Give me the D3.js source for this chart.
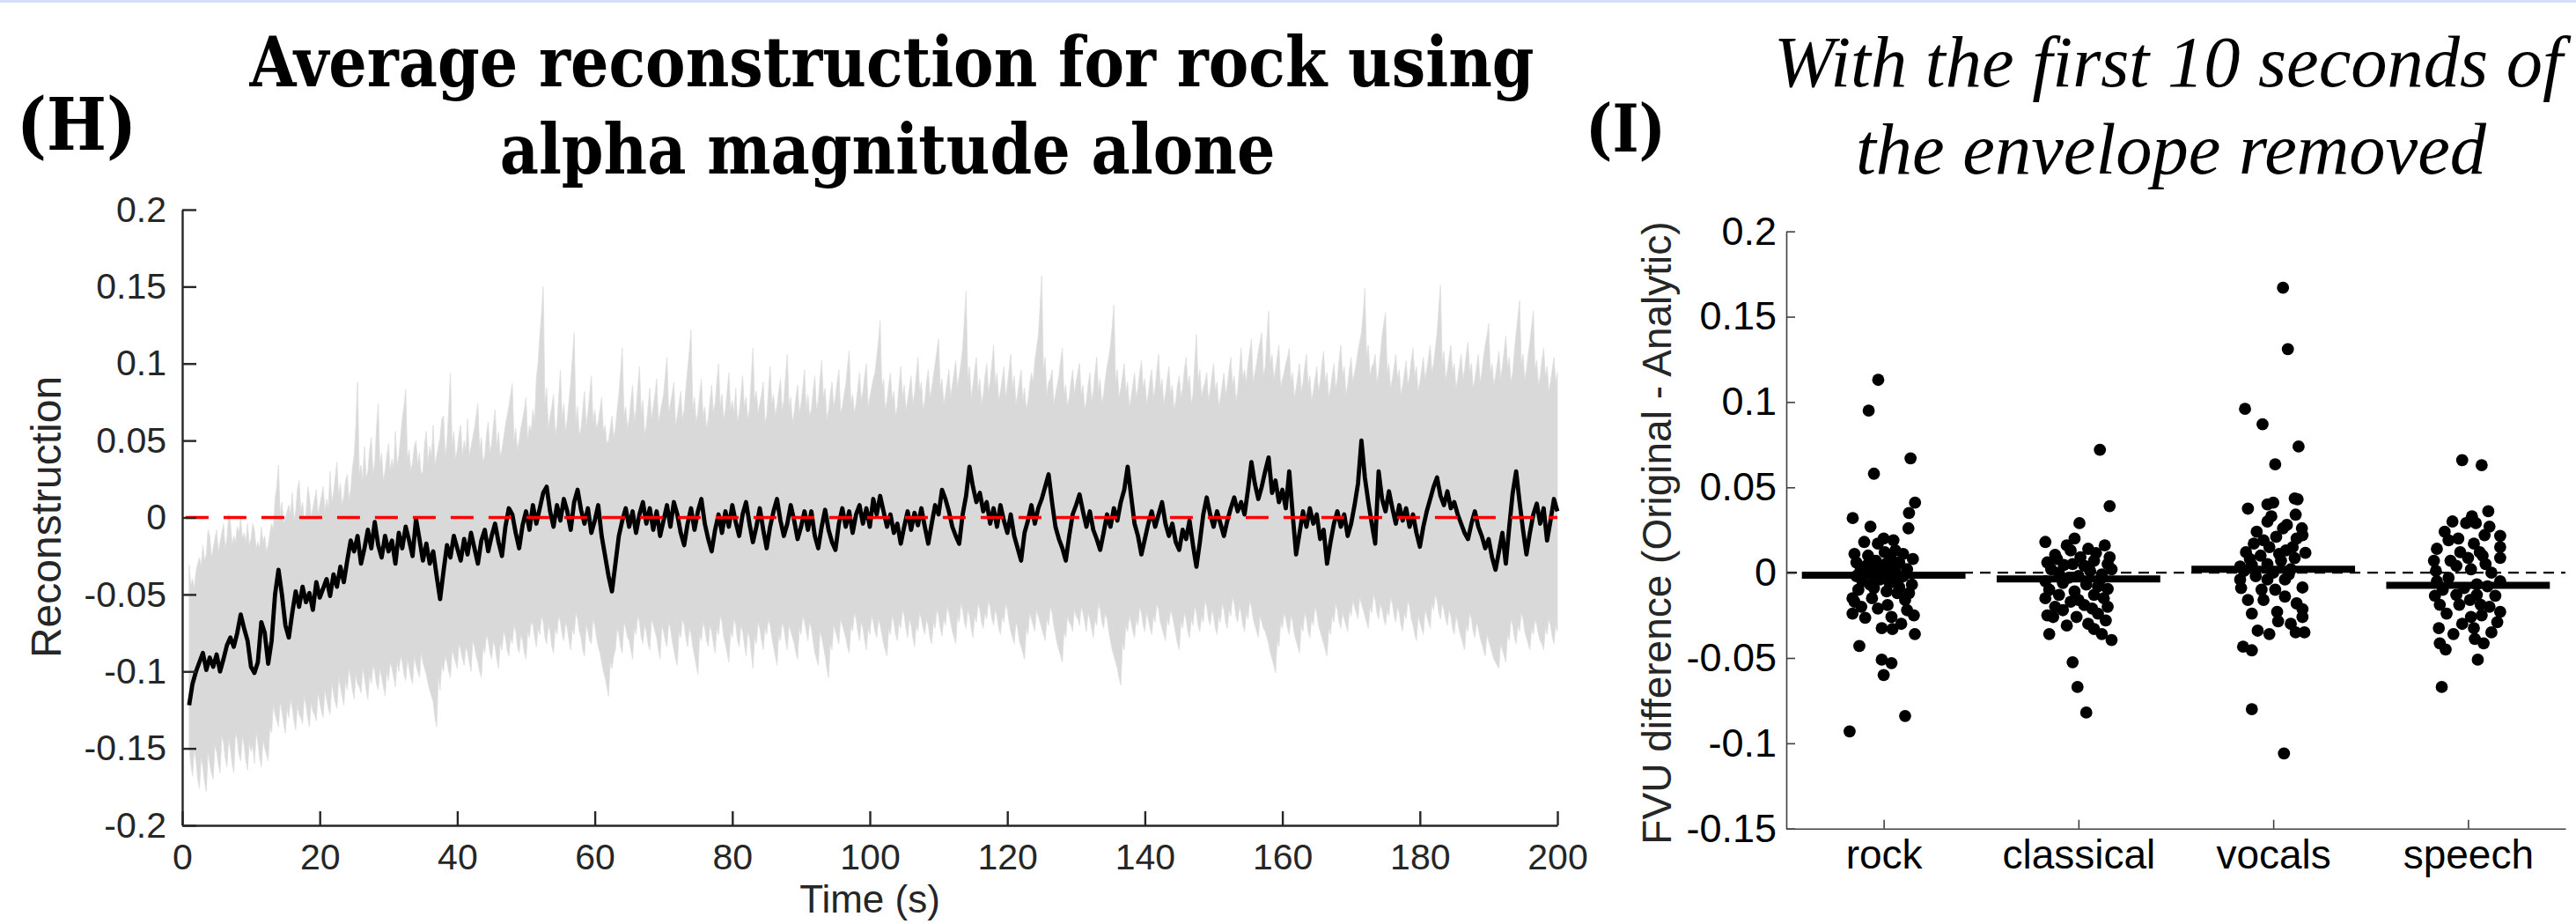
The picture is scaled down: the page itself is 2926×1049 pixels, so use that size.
<!DOCTYPE html>
<html>
<head>
<meta charset="utf-8">
<script src="https://cdn.jsdelivr.net/npm/d3@7"></script>
<style>
  html, body { margin: 0; padding: 0; background: #ffffff; }
  svg { display: block; }
</style>
</head>
<body>
<svg id="chart" width="2926" height="1049"></svg>
<script>
// ---------------- DATA ----------------
// Panel H: mean reconstruction, sampled every 0.5 s from t = 1 s to t = 200 s
const meanStart = 1, meanStep = 0.5;
const meanValues = [
-.122,-.108,-.100,-.094,-.088,-.099,-.091,-.097,-.089,-.100,-.092,-.083,-.078,-.084,-.075,-.063,-.072,-.080,-.097,-.101,
-.094,-.068,-.075,-.095,-.080,-.050,-.034,-.050,-.070,-.078,-.062,-.048,-.058,-.045,-.055,-.049,-.060,-.042,-.052,-.046,
-.040,-.051,-.037,-.045,-.032,-.042,-.028,-.015,-.022,-.012,-.030,-.020,-.008,-.020,-.003,-.018,-.026,-.012,-.022,-.015,
-.030,-.010,-.020,-.006,-.015,-.025,-.001,-.014,-.028,-.017,-.030,-.022,-.038,-.053,-.035,-.018,-.026,-.012,-.020,-.028,
-.014,-.024,-.010,-.020,-.030,-.015,-.008,-.022,-.012,-.004,-.016,-.025,-.006,.006,.002,-.010,-.020,-.005,.004,-.008,
.008,-.004,.006,.016,.020,.004,-.006,.008,-.002,.012,.004,-.008,.010,.018,.005,-.004,.006,-.010,-.002,.008,
-.012,-.025,-.038,-.048,-.030,-.012,-.002,.006,-.006,.004,-.010,.002,.010,-.004,.006,-.008,.004,-.012,-.002,.008,
-.006,.010,.002,-.010,-.018,-.004,.006,-.008,.004,.012,-.004,-.014,-.022,-.008,.002,-.010,.004,-.006,.008,-.003,
-.012,.002,.010,-.004,-.016,-.006,.006,-.008,-.020,-.006,.004,.012,-.002,-.012,-.004,.008,-.002,-.014,-.006,.004,
-.008,.004,-.012,-.020,-.006,.005,-.008,-.016,-.021,-.004,.006,-.006,.004,-.010,.002,.008,-.004,.006,-.006,.012,
.002,.014,.004,-.006,.002,-.010,-.004,-.017,-.006,.004,-.008,.003,-.005,.006,-.006,-.017,-.004,.008,.002,.018,
.012,.004,-.006,-.012,-.017,.002,.014,.033,.020,.010,.016,.004,.010,-.004,.006,-.006,.008,-.002,-.010,.002,
-.012,-.020,-.028,-.010,-.002,.008,-.004,.006,.012,.020,.028,.010,-.006,-.014,-.020,-.028,-.012,.002,.008,.015,
.004,-.006,.004,-.008,-.014,-.021,-.010,.002,-.006,.006,-.002,.010,.018,.033,.014,-.004,-.012,-.024,-.014,-.004,
.004,-.006,.002,.010,-.004,-.012,-.004,-.016,-.021,-.008,-.014,-.002,-.018,-.032,-.016,.002,.013,.002,-.006,.004,
-.004,-.012,-.002,.006,.013,.004,.010,.002,.018,.036,.022,.012,.020,.030,.039,.016,.024,.010,.018,.006,
.030,.002,-.024,-.010,.004,-.006,.006,-.004,.002,-.014,-.008,-.030,-.016,-.004,.004,-.006,.002,-.012,-.004,.008,
.022,.050,.026,.010,-.004,-.017,.030,.012,.004,.017,.006,-.004,.008,-.002,.006,-.006,.002,-.010,-.019,-.006,
.004,.012,.020,.026,.014,.008,.017,.006,.010,.002,-.004,-.010,-.014,-.004,.004,-.006,-.012,-.020,-.014,-.026,
-.034,-.022,-.010,-.030,-.006,.016,.030,.010,-.008,-.024,-.010,.002,.009,-.004,.006,-.015,-.002,.012,.004
];
// Upper and lower edges of the grey band, sampled every 0.25 s from t = 1 s to t = 200 s
const bandStart = 1, bandStep = 0.25;
const upperValues = [
-.031,-.044,-.040,-.046,-.035,-.030,-.026,-.032,-.018,-.028,-.024,-.008,-.012,-.026,-.020,-.014,-.008,-.022,-.016,-.010,-.004,-.020,-.014,.002,-.002,-.018,-.012,-.016,-.006,-.010,.000,-.014,-.010,-.016,-.004,-.018,-.014,-.004,-.008,-.020,
-.016,-.020,-.006,-.016,-.012,-.022,-.018,-.010,-.004,-.008,.012,.020,.034,.002,.010,-.004,.000,.004,.008,.002,.016,-.002,.004,.018,.024,.004,.010,-.002,.002,.020,.014,.000,.006,.012,.018,.002,.008,.014,.020,.004,
.012,.006,.030,.010,.016,.026,.036,.014,.022,.008,.014,.024,.028,.012,.018,.032,.040,.060,.088,.028,.034,.024,.046,.026,.030,.044,.052,.028,.036,.058,.074,.034,.042,.024,.030,.040,.048,.030,.038,.032,
.056,.034,.040,.052,.064,.072,.083,.038,.044,.030,.036,.046,.050,.034,.042,.028,.030,.048,.056,.036,.046,.040,.060,.034,.040,.046,.052,.064,.066,.040,.048,.070,.094,.046,.056,.038,.044,.054,.060,.040,
.050,.044,.064,.040,.046,.052,.058,.066,.074,.044,.052,.036,.040,.054,.062,.042,.048,.060,.070,.046,.056,.040,.044,.052,.060,.066,.072,.080,.087,.050,.058,.044,.050,.058,.064,.070,.078,.050,.060,.056,
.070,.062,.090,.100,.118,.132,.150,.074,.084,.058,.066,.072,.080,.054,.060,.078,.096,.064,.074,.056,.064,.076,.088,.104,.120,.062,.072,.054,.058,.070,.082,.060,.068,.080,.092,.062,.070,.058,.062,.070,
.078,.056,.060,.048,.050,.058,.066,.052,.058,.070,.080,.094,.110,.066,.072,.058,.064,.076,.086,.062,.070,.084,.098,.068,.076,.054,.060,.072,.084,.064,.072,.080,.090,.062,.068,.074,.080,.092,.104,.068,
.074,.080,.088,.060,.066,.074,.082,.064,.070,.084,.096,.108,.122,.070,.078,.062,.068,.080,.090,.066,.072,.058,.064,.076,.086,.068,.074,.088,.100,.072,.080,.064,.070,.082,.094,.070,.076,.068,.084,.062,
.068,.080,.092,.072,.078,.064,.070,.090,.110,.076,.082,.068,.074,.080,.088,.062,.066,.082,.098,.074,.080,.066,.072,.082,.090,.070,.076,.092,.106,.072,.078,.062,.068,.078,.086,.068,.074,.084,.096,.070,
.080,.066,.070,.082,.092,.070,.076,.090,.102,.078,.084,.064,.070,.080,.088,.072,.078,.088,.096,.068,.072,.080,.086,.098,.108,.074,.080,.068,.074,.084,.094,.076,.082,.092,.100,.072,.078,.084,.090,.094,
.104,.114,.128,.084,.090,.070,.076,.086,.094,.076,.082,.066,.072,.086,.098,.078,.086,.070,.076,.084,.092,.074,.080,.092,.104,.082,.088,.070,.076,.088,.096,.078,.084,.092,.100,.108,.116,.084,.090,.074,
.080,.088,.096,.078,.086,.094,.102,.084,.092,.100,.110,.128,.147,.090,.098,.078,.086,.096,.104,.082,.090,.074,.080,.092,.100,.082,.088,.100,.112,.086,.094,.076,.082,.090,.098,.078,.086,.096,.106,.084,
.092,.074,.080,.088,.096,.076,.084,.070,.076,.086,.094,.088,.102,.110,.118,.136,.157,.096,.104,.080,.088,.090,.096,.074,.080,.086,.092,.102,.110,.080,.086,.072,.078,.088,.096,.080,.088,.094,.100,.080,
.086,.070,.076,.086,.094,.076,.082,.094,.104,.082,.090,.074,.080,.090,.098,.104,.112,.124,.138,.088,.096,.078,.084,.092,.100,.082,.088,.072,.078,.086,.094,.078,.084,.094,.102,.084,.090,.074,.080,.090,
.096,.078,.084,.096,.106,.084,.090,.074,.080,.090,.098,.080,.086,.070,.076,.086,.092,.078,.084,.096,.104,.086,.092,.074,.080,.100,.119,.088,.096,.078,.084,.088,.094,.076,.082,.092,.100,.082,.088,.072,
.078,.086,.094,.080,.086,.096,.104,.086,.092,.076,.082,.096,.110,.090,.096,.088,.100,.108,.116,.088,.094,.100,.108,.114,.120,.092,.098,.116,.134,.100,.106,.090,.096,.104,.112,.084,.090,.094,.100,.104,
.110,.088,.094,.078,.084,.092,.100,.082,.088,.098,.106,.086,.092,.076,.082,.090,.098,.082,.088,.100,.108,.088,.094,.078,.084,.092,.100,.084,.090,.102,.112,.092,.098,.080,.086,.096,.104,.088,.094,.100,
.108,.114,.120,.132,.149,.104,.112,.092,.098,.100,.106,.088,.094,.106,.118,.126,.133,.094,.100,.084,.090,.098,.106,.090,.096,.080,.086,.094,.102,.086,.092,.102,.110,.092,.098,.082,.088,.096,.104,.090,
.096,.104,.112,.094,.100,.110,.120,.136,.151,.100,.108,.090,.096,.104,.112,.094,.100,.084,.090,.098,.106,.090,.096,.106,.114,.094,.100,.084,.090,.098,.106,.088,.094,.104,.112,.118,.126,.094,.100,.086,
.092,.100,.108,.090,.098,.108,.118,.098,.104,.088,.094,.108,.120,.130,.141,.100,.106,.090,.096,.106,.114,.124,.134,.096,.102,.086,.092,.102,.110,.092,.098,.082,.088,.096,.104,.088,.094
];
const lowerValues = [
-.150,-.160,-.168,-.150,-.158,-.170,-.176,-.156,-.162,-.172,-.178,-.152,-.160,-.166,-.170,-.148,-.152,-.160,-.166,-.142,-.146,-.156,-.162,-.144,-.150,-.160,-.166,-.140,-.144,-.154,-.158,-.142,-.148,-.158,-.164,-.146,-.152,-.148,-.160,-.140,
-.146,-.156,-.162,-.144,-.150,-.154,-.158,-.136,-.140,-.122,-.128,-.132,-.136,-.120,-.126,-.134,-.140,-.124,-.130,-.118,-.124,-.132,-.138,-.122,-.128,-.130,-.134,-.116,-.122,-.130,-.136,-.120,-.126,-.128,-.132,-.114,-.120,-.126,-.130,-.112,
-.118,-.124,-.128,-.108,-.114,-.120,-.124,-.104,-.110,-.116,-.122,-.106,-.112,-.098,-.104,-.112,-.118,-.102,-.108,-.110,-.114,-.098,-.104,-.112,-.118,-.102,-.108,-.096,-.100,-.108,-.112,-.098,-.104,-.110,-.116,-.100,-.106,-.094,-.098,-.104,
-.110,-.094,-.100,-.090,-.094,-.102,-.106,-.092,-.098,-.104,-.108,-.090,-.096,-.100,-.104,-.088,-.094,-.098,-.102,-.108,-.112,-.116,-.120,-.130,-.136,-.104,-.112,-.096,-.100,-.090,-.094,-.100,-.104,-.086,-.090,-.094,-.098,-.082,-.086,-.092,
-.096,-.084,-.088,-.094,-.100,-.080,-.084,-.090,-.094,-.100,-.104,-.084,-.088,-.076,-.080,-.088,-.092,-.080,-.084,-.092,-.098,-.082,-.086,-.074,-.078,-.086,-.090,-.078,-.082,-.070,-.074,-.084,-.088,-.076,-.080,-.088,-.092,-.074,-.078,-.068,
-.070,-.078,-.084,-.072,-.076,-.064,-.068,-.078,-.082,-.070,-.074,-.084,-.088,-.072,-.076,-.064,-.068,-.076,-.080,-.068,-.072,-.080,-.086,-.072,-.076,-.062,-.066,-.074,-.078,-.086,-.090,-.070,-.074,-.080,-.082,-.066,-.070,-.078,-.084,-.088,
-.094,-.100,-.104,-.110,-.116,-.094,-.098,-.090,-.086,-.072,-.076,-.084,-.088,-.068,-.072,-.078,-.080,-.086,-.092,-.072,-.076,-.064,-.068,-.078,-.082,-.070,-.074,-.082,-.086,-.066,-.070,-.074,-.078,-.086,-.092,-.070,-.074,-.080,-.084,-.068,
-.072,-.080,-.086,-.092,-.096,-.074,-.078,-.066,-.070,-.078,-.084,-.072,-.076,-.084,-.090,-.096,-.102,-.076,-.080,-.068,-.072,-.080,-.084,-.070,-.074,-.082,-.088,-.072,-.076,-.064,-.068,-.078,-.082,-.088,-.094,-.074,-.078,-.066,-.070,-.080,
-.084,-.070,-.074,-.082,-.090,-.074,-.078,-.088,-.098,-.078,-.082,-.068,-.072,-.080,-.086,-.072,-.076,-.066,-.070,-.078,-.084,-.090,-.096,-.076,-.080,-.068,-.072,-.080,-.086,-.070,-.074,-.078,-.082,-.088,-.092,-.072,-.076,-.064,-.068,-.074,
-.080,-.068,-.072,-.080,-.088,-.092,-.096,-.074,-.078,-.084,-.090,-.098,-.104,-.082,-.086,-.070,-.074,-.078,-.082,-.066,-.070,-.074,-.078,-.084,-.088,-.070,-.074,-.062,-.066,-.074,-.080,-.068,-.072,-.080,-.086,-.072,-.076,-.064,-.068,-.074,
-.078,-.066,-.070,-.076,-.082,-.086,-.090,-.072,-.076,-.064,-.068,-.076,-.080,-.068,-.072,-.060,-.064,-.072,-.078,-.066,-.070,-.078,-.084,-.070,-.074,-.062,-.066,-.072,-.076,-.066,-.070,-.078,-.082,-.068,-.072,-.060,-.064,-.072,-.077,-.066,
-.070,-.058,-.062,-.068,-.074,-.078,-.082,-.064,-.068,-.056,-.060,-.068,-.072,-.060,-.064,-.072,-.078,-.064,-.068,-.056,-.060,-.068,-.072,-.062,-.066,-.054,-.058,-.066,-.070,-.060,-.064,-.072,-.076,-.064,-.068,-.056,-.060,-.068,-.074,-.078,
-.082,-.068,-.072,-.080,-.084,-.088,-.092,-.072,-.076,-.062,-.066,-.070,-.074,-.060,-.064,-.068,-.072,-.076,-.080,-.066,-.070,-.058,-.062,-.070,-.076,-.082,-.086,-.090,-.094,-.074,-.078,-.064,-.068,-.070,-.074,-.060,-.064,-.066,-.070,-.058,
-.062,-.068,-.074,-.062,-.066,-.072,-.078,-.066,-.070,-.056,-.060,-.068,-.072,-.062,-.066,-.074,-.080,-.086,-.090,-.094,-.098,-.104,-.109,-.082,-.086,-.070,-.074,-.064,-.068,-.074,-.078,-.066,-.070,-.058,-.062,-.070,-.074,-.062,-.066,-.072,
-.076,-.064,-.068,-.056,-.060,-.068,-.072,-.076,-.080,-.066,-.070,-.060,-.064,-.070,-.076,-.082,-.086,-.068,-.072,-.062,-.066,-.074,-.078,-.066,-.070,-.058,-.062,-.070,-.074,-.064,-.068,-.054,-.058,-.066,-.070,-.060,-.064,-.072,-.076,-.064,
-.068,-.056,-.060,-.068,-.072,-.060,-.064,-.052,-.056,-.064,-.068,-.058,-.062,-.070,-.074,-.062,-.066,-.054,-.058,-.066,-.070,-.074,-.078,-.064,-.068,-.072,-.074,-.078,-.082,-.088,-.092,-.096,-.101,-.080,-.084,-.068,-.072,-.062,-.066,-.072,
-.076,-.064,-.068,-.076,-.080,-.084,-.088,-.070,-.074,-.062,-.066,-.074,-.078,-.066,-.070,-.058,-.062,-.070,-.074,-.078,-.082,-.086,-.090,-.072,-.076,-.064,-.068,-.056,-.060,-.068,-.072,-.062,-.066,-.070,-.074,-.060,-.064,-.054,-.058,-.062,
-.066,-.052,-.056,-.060,-.064,-.068,-.072,-.058,-.062,-.050,-.054,-.062,-.066,-.056,-.060,-.066,-.070,-.060,-.064,-.052,-.056,-.064,-.068,-.058,-.062,-.070,-.074,-.062,-.066,-.054,-.058,-.066,-.070,-.076,-.080,-.064,-.068,-.072,-.076,-.060,
-.064,-.068,-.072,-.056,-.060,-.050,-.054,-.062,-.066,-.056,-.060,-.066,-.070,-.060,-.064,-.072,-.076,-.064,-.068,-.074,-.078,-.082,-.086,-.070,-.074,-.062,-.066,-.074,-.078,-.068,-.072,-.078,-.082,-.086,-.090,-.076,-.080,-.084,-.088,-.092,
-.094,-.096,-.098,-.082,-.086,-.090,-.094,-.076,-.080,-.066,-.070,-.078,-.082,-.070,-.074,-.062,-.066,-.074,-.078,-.082,-.086,-.072,-.076,-.066,-.070,-.076,-.080,-.082,-.086,-.072,-.076,-.066,-.070,-.078,-.082,-.070,-.074
];
const xTicksH = [0, 20, 40, 60, 80, 100, 120, 140, 160, 180, 200];
const yTicksH = [-0.2, -0.15, -0.1, -0.05, 0, 0.05, 0.1, 0.15, 0.2];

// Panel I: per-category FVU differences (value) and horizontal jitter (in category units)
const categories = ["rock", "classical", "vocals", "speech"];
const rockValues = [.113,.095,.067,.058,.041,.035,.032,.027,.026,.018,.017,.019,.011,.013,.009,.008,.006,.004,.007,.005,.006,.002,.001,.002,.000,-.001,-.002,-.005,-.0085,-.007,-.004,-.006,-.015,-.015,-.019,-.016,-.024,-.0265,-.026,-.0325,-.033,-.036,-.043,-.051,-.053,-.060,-.084,-.093,-.010,-.012,-.009,-.022,-.021,.003,.010,.011,-.017,.012,-.030,-.007,-.011,-.020,-.012,.020,.004,-.004,-.002,-.025];
const rockJitter = [-.028,-.077,.138,-.050,.161,.130,-.159,-.068,.127,-.100,-.030,.050,-.150,.060,.035,.150,-.140,-.090,-.040,.010,.080,.120,-.120,-.010,.040,-.060,.100,-.110,.080,.145,-.020,.030,-.160,-.060,.020,.110,-.160,-.095,.040,-.010,.045,.160,-.125,-.010,.040,.000,.110,-.175,-.130,.070,-.050,.120,-.030,.060,-.080,.100,-.150,.005,.090,-.070,.015,-.115,.130,.000,-.045,.075,-.140,.155];
const classicalValues = [.072,.039,.029,.018,.016,.016,.013,.0105,.0115,.009,.006,.0045,.007,.005,.005,.004,-.005,-.006,-.007,-.0045,-.010,-.011,-.013,-.0095,-.015,-.017,-.015,-.020,-.019,-.020,-.025,-.026,-.024,-.031,-.030,-.033,-.0395,-.0525,-.067,-.082,.000,-.002,.001,.002,-.001,-.003,.009,-.013,-.008,-.016,-.022,-.021,-.026,-.028,.008,.014,.020,.002,-.036,-.036];
const classicalJitter = [.110,.160,.005,-.170,-.060,.135,-.040,-.120,.090,.160,-.160,-.075,.080,.150,-.030,.030,-.170,-.080,.040,.110,-.150,-.020,.080,.150,-.170,-.040,.130,-.120,.030,.150,-.160,-.130,.100,-.060,.050,.080,.170,-.030,-.005,.040,-.100,.000,.060,-.140,.120,-.050,.010,-.100,.100,.000,-.080,.070,-.010,.140,-.110,.050,-.020,.170,-.150,.120];
const vocalsValues = [.167,.131,.096,.087,.074,.0635,.043,.040,.0375,.034,.041,.0435,.030,.024,.026,.026,.022,.019,.021,.020,.012,.013,.0116,.010,.0085,.0036,.0045,.005,.007,.002,-.004,-.004,-.004,-.0087,-.009,-.010,-.014,-.016,-.016,-.023,-.024,-.0214,-.026,-.0285,-.034,-.036,-.035,-.035,-.0434,-.0455,-.080,-.106,.000,.015,.017,.011,.033,-.001,-.002,-.018,.015,.028,.008,-.010,-.030,.001];
const vocalsJitter = [.050,.075,-.145,-.055,.130,.010,.125,-.030,-.130,.115,.000,.110,-.030,-.085,.050,.147,.150,-.050,.015,.120,-.140,.065,.165,-.065,.110,-.170,-.110,-.030,.040,.090,-.170,-.030,.060,.150,-.165,-.060,.060,-.130,-.050,.020,-.110,.150,.150,.025,-.080,-.020,.115,.160,-.155,-.110,-.110,.055,.000,.100,-.100,.030,-.010,.080,-.090,.120,-.020,.070,-.120,.010,.090,-.150];
const speechValues = [.066,.063,.036,.029,.029,.027,.019,.017,.0216,.014,.012,.010,.015,.007,.007,.0087,.012,.0087,.001,.002,.000,-.005,-.0068,-.005,-.0136,-.013,-.013,-.0136,-.0188,-.0188,-.0188,-.023,-.024,-.026,-.029,-.0325,-.036,-.0325,-.0414,-.045,-.0388,-.0414,-.051,-.067,.024,.022,.004,.005,-.009,-.008,-.003,-.016,-.020,-.030,-.035,.030,.033,-.010,-.025,.020];
const speechJitter = [-.030,.070,.104,-.010,.040,.110,-.100,.030,.165,-.160,-.040,.075,.165,-.175,-.090,.000,.060,.165,-.165,.015,.120,-.160,.045,.165,-.170,-.060,.045,.140,-.145,-.045,.065,.165,-.110,.015,.150,-.150,-.075,.030,-.145,-.115,.035,.080,.050,-.135,-.120,.085,-.060,.090,-.020,.100,-.100,.010,.110,-.030,.120,-.080,.020,-.130,.070,-.050];
const categoryMeans = [-0.0015, -0.0037, 0.002, -0.0074];
const yTicksI = [-0.15, -0.1, -0.05, 0, 0.05, 0.1, 0.15, 0.2];

// ---------------- DRAWING ----------------
const svg = d3.select("#chart");
const sans = "'Liberation Sans', Arial, Helvetica, sans-serif";
const serifBold = "'DejaVu Serif', 'Liberation Serif', serif";
const serifItalic = "'Liberation Serif', 'DejaVu Serif', serif";
const fmt = d => d === 0 ? "0" : String(+d.toFixed(2));

svg.append("rect").attr("x", 0).attr("y", 0).attr("width", 2926).attr("height", 1049).attr("fill", "#ffffff");
svg.append("rect").attr("x", 0).attr("y", 0).attr("width", 2926).attr("height", 3).attr("fill", "#cfe2f7");

// ---- Panel H ----
const xH = d3.scaleLinear().domain([0, 200]).range([207, 1769]);
const yH = d3.scaleLinear().domain([-0.2, 0.2]).range([937, 238]);
const band = upperValues.map((u, i) => ({ t: bandStart + i * bandStep, hi: u, lo: lowerValues[i] }))
  .filter(d => d.lo !== undefined);
const meanSeries = meanValues.map((m, i) => ({ t: meanStart + i * meanStep, m: m }));

const gH = svg.append("g");
gH.append("path")
  .datum(band)
  .attr("fill", "#d9d9d9")
  .attr("stroke", "#dedede")
  .attr("stroke-width", 0.8)
  .attr("d", d3.area().x(d => xH(d.t)).y0(d => yH(d.lo)).y1(d => yH(d.hi)));

gH.append("path")
  .datum(meanSeries)
  .attr("fill", "none")
  .attr("stroke", "#000000")
  .attr("stroke-width", 4.8)
  .attr("stroke-linejoin", "round")
  .attr("d", d3.line().x(d => xH(d.t)).y(d => yH(d.m)));

gH.append("line")
  .attr("x1", xH(0.5)).attr("x2", xH(200))
  .attr("y1", yH(0)).attr("y2", yH(0))
  .attr("stroke", "#ff0000").attr("stroke-width", 3.5)
  .attr("stroke-dasharray", "26,17");

const axH_y = gH.append("g").attr("transform", `translate(${xH(0)},0)`)
  .call(d3.axisLeft(yH).tickValues(yTicksH).tickFormat(fmt).tickSize(-16).tickSizeOuter(0).tickPadding(18));
const axH_x = gH.append("g").attr("transform", `translate(0,${yH(-0.2)})`)
  .call(d3.axisBottom(xH).tickValues(xTicksH).tickFormat(d3.format("d")).tickSize(-16).tickSizeOuter(0).tickPadding(21));
[axH_y, axH_x].forEach(a => {
  a.select(".domain").attr("stroke", "#262626").attr("stroke-width", 2.4);
  a.selectAll(".tick line").attr("stroke", "#262626").attr("stroke-width", 2.4);
  a.selectAll(".tick text").attr("fill", "#262626").style("font-family", sans).style("font-size", "41px");
});

gH.append("text").attr("transform", "translate(69,587) rotate(-90)")
  .attr("text-anchor", "middle").attr("fill", "#262626")
  .style("font-family", sans).style("font-size", "48px").text("Reconstruction");
gH.append("text").attr("x", 988).attr("y", 1036)
  .attr("text-anchor", "middle").attr("fill", "#262626")
  .style("font-family", sans).style("font-size", "44px").text("Time (s)");

// ---- Panel I ----
const xI = d3.scaleLinear().domain([0.5, 4.5]).range([2029, 2914]);
const yI = d3.scaleLinear().domain([-0.15, 0.2]).range([940.7, 262.7]);
const gI = svg.append("g");

gI.append("line")
  .attr("x1", xI(0.5)).attr("x2", xI(4.5))
  .attr("y1", yI(0)).attr("y2", yI(0))
  .attr("stroke", "#000000").attr("stroke-width", 2.2)
  .attr("stroke-dasharray", "12,8");

const catValues = [rockValues, classicalValues, vocalsValues, speechValues];
const catJitter = [rockJitter, classicalJitter, vocalsJitter, speechJitter];
const dots = [];
catValues.forEach((vals, ci) => vals.forEach((v, k) => dots.push({ c: ci + 1 + catJitter[ci][k], v: v })));
gI.append("g").selectAll("circle").data(dots).join("circle")
  .attr("cx", d => xI(d.c)).attr("cy", d => yI(d.v)).attr("r", 6.9).attr("fill", "#000000");

gI.append("g").selectAll("line").data(categoryMeans).join("line")
  .attr("x1", (d, i) => xI(i + 1 - 0.42)).attr("x2", (d, i) => xI(i + 1 + 0.42))
  .attr("y1", d => yI(d)).attr("y2", d => yI(d))
  .attr("stroke", "#000000").attr("stroke-width", 8);

const axI_y = gI.append("g").attr("transform", `translate(${xI(0.5)},0)`)
  .call(d3.axisLeft(yI).tickValues(yTicksI).tickFormat(fmt).tickSize(-10).tickSizeOuter(0).tickPadding(11));
const axI_x = gI.append("g").attr("transform", `translate(0,${yI(-0.15)})`)
  .call(d3.axisBottom(xI).tickValues([1, 2, 3, 4]).tickFormat(d => categories[d - 1]).tickSize(-10).tickSizeOuter(0).tickPadding(13));
[axI_y, axI_x].forEach(a => {
  a.select(".domain").attr("stroke", "#404040").attr("stroke-width", 1.6);
  a.selectAll(".tick line").attr("stroke", "#404040").attr("stroke-width", 1.6);
  a.selectAll(".tick text").attr("fill", "#000000").style("font-family", sans).style("font-size", "45px");
});
axI_x.selectAll(".tick text").style("font-size", "46px");

gI.append("text").attr("transform", "translate(1898,605) rotate(-90)")
  .attr("text-anchor", "middle").attr("fill", "#262626")
  .style("font-family", sans).style("font-size", "46px").text("FVU difference (Original - Analytic)");

// ---- Titles (font size fitted to the measured widths in the reference) ----
function fitText(sel, targetWidth, base) {
  sel.style("font-size", base + "px");
  const w = sel.node().getComputedTextLength();
  sel.style("font-size", (base * targetWidth / w).toFixed(2) + "px");
}
function titleText(x, y, sy, family, weight, style, anchor, str) {
  return svg.append("g").attr("transform", `translate(${x},${y}) scale(1,${sy})`)
    .append("text").attr("x", 0).attr("y", 0).attr("text-anchor", anchor)
    .style("font-family", family).style("font-weight", weight).style("font-style", style)
    .attr("fill", "#000").text(str);
}
const t1 = titleText(1013, 98, 1.15, serifBold, "bold", "normal", "middle", "Average reconstruction for rock using");
fitText(t1, 1459, 66);
const t2 = titleText(1008, 197, 1.15, serifBold, "bold", "normal", "middle", "alpha magnitude alone");
t2.style("font-size", t1.style("font-size"));
const lH = titleText(19, 170, 1.15, serifBold, "bold", "normal", "start", "(H)");
fitText(lH, 136, 66);

const t3 = titleText(2463, 98, 1.0, serifItalic, "normal", "italic", "middle", "With the first 10 seconds of");
fitText(t3, 896, 66);
const t4 = titleText(2466, 197, 1.0, serifItalic, "normal", "italic", "middle", "the envelope removed");
t4.style("font-size", t3.style("font-size"));
const lI = titleText(1801, 172, 1.15, serifBold, "bold", "normal", "start", "(I)");
fitText(lI, 91, 66);
</script>
</body>
</html>
